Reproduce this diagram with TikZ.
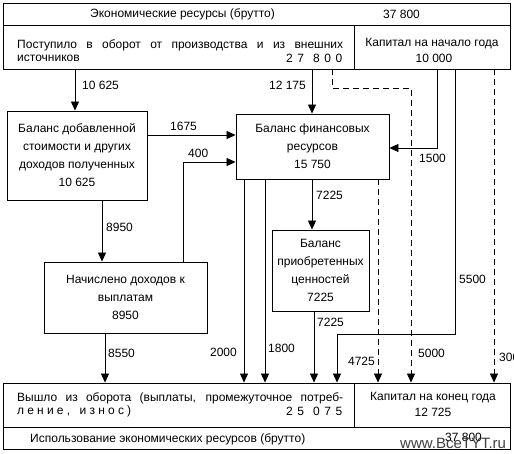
\documentclass[tikz,border=0pt]{standalone}
\usepackage{fontspec}
\setmainfont{Liberation Sans}
\usetikzlibrary{arrows.meta}
\begin{document}
\begin{tikzpicture}[x=1pt,y=-1pt,
  every node/.style={font=\fontsize{12}{14}\selectfont},
  box/.style={draw, line width=0.9pt, inner sep=0pt, align=center, font=\fontsize{12}{18}\selectfont},
  frame/.style={draw, line width=0.9pt, inner sep=0pt},
  ln/.style={line width=0.8pt},
  arr/.style={ln, -{Triangle[length=9pt,width=8pt]}},
  dsh/.style={ln, dash pattern=on 6pt off 4pt},
  darr/.style={dsh, -{Triangle[length=9pt,width=8pt]}},
  lbl/.style={inner sep=0pt, anchor=west},
  txt/.style={inner sep=0pt},
]
\useasboundingbox (0,0) rectangle (514,453);
\fill[white] (0,0) rectangle (514,453);

% table frames
\node[frame, minimum width=507pt, minimum height=22pt] (res) at (256.5,14) {};
\node[frame, minimum width=351pt, minimum height=44pt] (in) at (178.5,47) {};
\node[frame, minimum width=156pt, minimum height=44pt] (kap0) at (432,47) {};
\node[frame, minimum width=351pt, minimum height=44pt] (out) at (178.5,405) {};
\node[frame, minimum width=156pt, minimum height=44pt] (kap1) at (432,405) {};
\node[frame, minimum width=507pt, minimum height=22pt] (use) at (256.5,438) {};

% table texts
\node[txt, anchor=west] (t1) at (90,14) {Экономические ресурсы (брутто)};
\node[txt, anchor=west] (t2) at (383,14) {37 800};
\node[txt, anchor=west] (t3) at (17,45) {\makebox[326pt][s]{Поступило в оборот от производства и из внешних}};
\node[txt, anchor=west] (t4) at (17,58) {источников};
\node[txt, anchor=west] (t5) at (286,58) {\makebox[56pt][s]{2\hfil 7\hfil\hfil 8\hfil 0\hfil 0}};
\node[txt] (t6) at (432,44) {Капитал на начало года};
\node[txt] (t7) at (434,58) {10 000};
\node[txt, anchor=west] (t8) at (17,398) {\makebox[326pt][s]{Вышло из оборота (выплаты, промежуточное потреб-}};
\node[txt, anchor=west] (t9) at (17,411) {\makebox[114pt][s]{л\hfil е\hfil н\hfil и\hfil е\hfil ,\hfil\hfil\hfil и\hfil з\hfil н\hfil о\hfil с\hfil )}};
\node[txt, anchor=west] (t10) at (286,411) {\makebox[56pt][s]{2\hfil 5\hfil\hfil 0\hfil 7\hfil 5}};
\node[txt] (t11) at (433,398) {Капитал на конец года};
\node[txt] (t12) at (433,412) {12 725};
\node[txt, anchor=west] (t13) at (30,439) {Использование экономических ресурсов (брутто)};
\node[txt, anchor=west] (t14) at (445,437) {37 800};
\node[txt, anchor=west, text=black!75, font=\fontsize{15}{16}\selectfont] (wm) at (400,443) {www.BceTYT.ru};

% boxes
\node[box, minimum width=140pt, minimum height=89pt] (bal) at (77,155.5) {Баланс добавленной\\стоимости и других\\доходов полученных\\10 625};
\node[box, minimum width=153pt, minimum height=65pt] (fin) at (312.5,146.5) {Баланс финансовых\\ресурсов\\15 750};
\node[box, minimum width=163pt, minimum height=71pt] (nach) at (125.5,297.5) {Начислено доходов к\\выплатам\\8950};
\node[box, minimum width=97pt, minimum height=81pt] (pri) at (320.5,270.5) {Баланс\\приобретенных\\ценностей\\7225};

% columns and rows
\foreach \n/\v in {c75/75,c102/102,c105/105,c183/183,c244/244,c265/265,c312/312,c314/314,c332/332,c337/337,c378/378,c411/411,c437/437,c455/455,c494/494}
  \coordinate (\n) at (\v,0);
\foreach \n/\v in {r88/88,r135/135,r148/148,r162/162,r334/334}
  \coordinate (\n) at (0,\v);

% connectors
\draw[arr] (in.south -| c75) -- (bal.north -| c75);
\draw[arr] (in.south -| c312) -- (fin.north -| c312);
\draw[arr] (bal.east |- r135) -- (fin.west |- r135);
\draw[arr] (nach.north -| c183) |- (fin.west |- r162);
\draw[arr] (kap0.south -| c437) |- (fin.east |- r148);
\draw[arr] (bal.south -| c102) -- (nach.north -| c102);
\draw[arr] (fin.south -| c312) -- (pri.north -| c312);
\draw[arr] (fin.south -| c244) -- (out.north -| c244);
\draw[arr] (fin.south -| c265) -- (out.north -| c265);
\draw[darr] (fin.south -| c378) -- (kap1.north -| c378);
\draw[arr] (pri.south -| c314) -- (out.north -| c314);
\draw[arr] (nach.south -| c105) -- (out.north -| c105);
\draw[arr] (kap0.south -| c455) |- (c337 |- r334) -- (out.north -| c337);
\draw[darr] (in.south -| c332) |- (c411 |- r88) -- (kap1.north -| c411);
\draw[darr] (kap0.south -| c494) -- (kap1.north -| c494);

% labels
\node[lbl] (l1) at (82,85) {10 625};
\node[lbl, anchor=east] (l2) at (306,85) {12 175};
\node[lbl] (l3) at (170,126) {1675};
\node[lbl] (l4) at (188,153) {400};
\node[lbl] (l5) at (419,158) {1500};
\node[lbl] (l6) at (316,195) {7225};
\node[lbl] (l7) at (106,227) {8950};
\node[lbl] (l8) at (459,279) {5500};
\node[lbl] (l9) at (317,322) {7225};
\node[lbl] (l10) at (108,353) {8550};
\node[lbl, anchor=east] (l11) at (237,352) {2000};
\node[lbl] (l12) at (268,348) {1800};
\node[lbl, anchor=east] (l13) at (375,361) {4725};
\node[lbl] (l14) at (418,353) {5000};
\node[lbl] (l15) at (499,357) {300};
\end{tikzpicture}
\end{document}
